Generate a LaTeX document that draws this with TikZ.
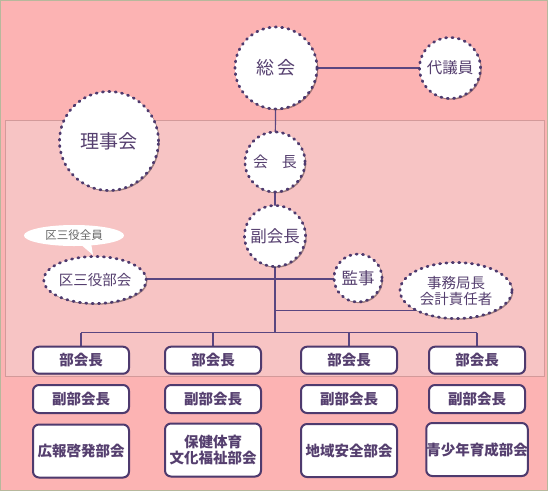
\documentclass[tikz,border=0pt]{standalone}
\usepackage{fontspec}
\setmainfont{Noto Sans CJK JP}
\usetikzlibrary{shapes.geometric,shadows}
\pgfdeclarelayer{bg}
\pgfdeclarelayer{wires}
\pgfsetlayers{bg,wires,main}
\definecolor{outerpink}{HTML}{FCB3B3}
\definecolor{innerpink}{HTML}{F7C4C4}
\definecolor{innerborder}{HTML}{D39A9A}
\definecolor{frame}{HTML}{B7B89C}
\definecolor{ink}{HTML}{4E3A6E}
\definecolor{txt}{HTML}{553F6F}
\definecolor{wire}{HTML}{5A4680}
\tikzset{
  dashcirc/.style={circle, fill=white, draw=ink, line width=2.7pt,
    dash pattern=on 1.2pt off 5.2pt, line cap=round, inner sep=0pt, text=txt,
    drop shadow={shadow xshift=1.2pt, shadow yshift=-1.2pt, opacity=0.35, fill=black}},
  dashell/.style={ellipse, fill=white, draw=ink, line width=2.7pt,
    dash pattern=on 1.2pt off 5.2pt, line cap=round, inner sep=0pt, text=txt, align=center,
    drop shadow={shadow xshift=1.2pt, shadow yshift=-1.2pt, opacity=0.35, fill=black}},
  boxnode/.style={rectangle, rounded corners=6pt, draw=ink, line width=2pt, fill=white,
    minimum width=96pt, text=txt, align=center, inner sep=0pt,
    font=\bfseries\fontsize{14.5}{17}\selectfont,
    drop shadow={shadow xshift=0.8pt, shadow yshift=-0.8pt, opacity=0.25, fill=black}},
  wireline/.style={draw=wire, line width=1.2pt},
}
\begin{document}
\begin{tikzpicture}[x=1pt,y=-1pt]
\useasboundingbox (0,0) rectangle (548,491);
\begin{pgfonlayer}{bg}
  \fill[outerpink] (0,0) rectangle (548,491);
  \draw[frame, line width=1pt] (0.5,0.5) rectangle (547.5,490.5);
  \draw[innerborder, fill=innerpink, line width=0.8pt] (5.5,120) rectangle (544.5,376.5);
\end{pgfonlayer}

% circles
\node[dashcirc, minimum size=82pt, font=\fontsize{18}{20}\selectfont] (sokai) at (276,68) {総\hspace{3pt}会};
\node[dashcirc, minimum size=61pt, font=\fontsize{15.5}{18}\selectfont] (daigiin) at (450,68) {代議員};
\node[dashcirc, minimum size=99pt, font=\fontsize{19}{21}\selectfont] (rijikai) at (109,141) {理事会};
\node[dashcirc, minimum size=60pt, font=\fontsize{15}{18}\selectfont] (kaicho) at (275,162) {会\hspace{14pt}長};
\node[dashcirc, minimum size=61pt, font=\fontsize{16.5}{19}\selectfont] (fukukaicho) at (275,236) {副会長};
\node[dashcirc, minimum size=48pt, font=\fontsize{16.5}{19}\selectfont] (kanji) at (358,278) {監事};
\node[dashell, minimum width=98pt, minimum height=47pt, font=\fontsize{14.5}{17}\selectfont] (kusan) at (95,280) {区三役部会};
\node[dashell, minimum width=112pt, minimum height=56pt, font=\fontsize{14.5}{17}\selectfont] (jimu) at (456,290.5) {事務局長\\[-1pt]会計責任者};

% speech bubble
\node[ellipse, fill=white, minimum width=100pt, minimum height=21pt, inner sep=0pt,
  text=black!60, font=\fontsize{11.5}{13}\selectfont] (bubble) at (74,235.5) {区三役全員};
\coordinate (tailtip) at (93,255);
\fill[white] (79,243) -- (tailtip) -- (91,243) -- cycle;

% boxes
\foreach \i/\x in {1/81,2/213,3/349,4/477}{
  \node[boxnode, minimum height=27pt] (bu\i) at (\x,360.2) {部会長};
  \node[boxnode, minimum height=28pt] (fuku\i) at (\x,399) {副部会長};
}
\node[boxnode, minimum height=53pt] (dep1) at (81,451) {広報啓発部会};
\node[boxnode, minimum height=53pt, font=\bfseries\fontsize{14.5}{16}\selectfont] (dep2) at (213,450) {保健体育\\文化福祉部会};
\node[boxnode, minimum height=53pt] (dep3) at (349,450.5) {地域安全部会};
\node[boxnode, minimum height=53pt] (dep4) at (477,449.5) {青少年育成部会};

% connectors
\coordinate (hbar) at (275,332.6);
\coordinate (jbar) at (275,310.6);
\coordinate (kbar) at (275,279);
\begin{pgfonlayer}{wires}
  \draw[wireline] (sokai.center) -- (daigiin.center);
  \draw[wireline] (sokai.center) -- (kaicho.center);
  \draw[wireline] (kaicho.center) -- (fukukaicho.center);
  \draw[wireline] (fukukaicho.center) -- (hbar);
  \draw[wireline] (kusan.center |- kbar) -- (kanji.center |- kbar);
  \draw[wireline] (jbar) -- (jbar -| jimu.center);
  \draw[wireline] (bu1.north |- hbar) -- (bu4.north |- hbar);
  \foreach \i in {1,2,3,4}{
    \draw[wireline] (bu\i.north |- hbar) -- (bu\i.north);
  }
\end{pgfonlayer}
\end{tikzpicture}
\end{document}
